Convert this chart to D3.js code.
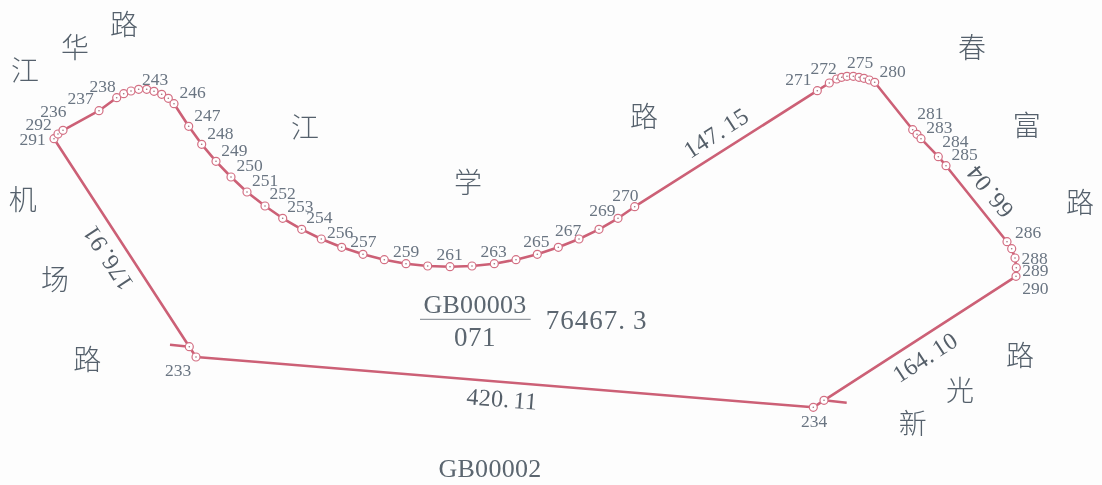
<!DOCTYPE html>
<html>
<head>
<meta charset="utf-8">
<style>
    body { margin: 0; background: #fdfdfd; }
    svg { display: block; }
</style>
<script src="https://d3js.org/d3.v7.min.js"></script>
</head>
<body>
<div id="chart"></div>
<script>
// parcel boundary vertices (map units, y down)
const pointX = [54, 58, 63, 99, 116.7, 123.7, 131, 138.7, 146.7, 154, 161.7, 168.3, 174,
    188.7, 201.7, 216, 231, 247, 265, 282.7, 301.7, 321.3, 341.7, 363, 384.3, 406, 427.7,
    450, 472, 494.3, 516, 537.3, 558.3, 579, 599, 618, 634.7,
    817.3, 829.3, 836.7, 841.7, 847, 853.3, 859, 864, 869.3, 874.7,
    912.7, 917, 921, 938.3, 946, 1007, 1011.7, 1015, 1016.3, 1016,
    824, 813.3, 196, 189.3];
const pointY = [138.7, 134, 130.3, 110.7, 97.7, 93.7, 91, 89.3, 89.3, 91.3, 94.3, 98.3, 103.7,
    126.3, 144.3, 161.3, 177, 192, 206, 218.3, 229.3, 239, 247.3, 254.3, 259.7, 263.7, 266,
    266.7, 266, 263.7, 259.7, 254.3, 247.3, 239, 229.3, 218.3, 206.7,
    90.7, 83, 79, 77.3, 76.3, 76.3, 77.3, 78.3, 80, 82.3,
    129.7, 134.3, 138.7, 156.7, 165.7, 241.7, 248.7, 258, 267.7, 276.3,
    400.3, 407.3, 357, 346.7];

// short pieces of the neighbouring parcel's boundary
const stubX = [[170, 189.3], [824, 846.7]];
const stubY = [[344.7, 346.7], [400.3, 402.7]];

const pointLabels = ["291", "292", "236", "237", "238", "243", "246", "247", "248", "249", "250",
    "251", "252", "253", "254", "256", "257", "259", "261", "263", "265", "267", "269", "270",
    "271", "272", "275", "280", "281", "283", "284", "285", "286", "288", "289", "290", "233", "234"];
const pointLabelX = [32.7, 38.7, 53.3, 80.7, 102.7, 155, 192.7, 207.3, 220.3, 234.3, 249.7,
    265, 282.7, 300.3, 319.3, 340, 363.3, 406, 449.7, 493.7, 536.3, 568, 602.3, 625.3,
    798.3, 823.7, 860, 892.7, 930.3, 939.3, 955.3, 964.7, 1028, 1034.7, 1035.3, 1035.3, 178, 814];
const pointLabelY = [138.7, 124, 110.7, 97.7, 86, 78.7, 92, 115, 132.7, 149.7, 165,
    180, 193.3, 206, 217.3, 232, 241.3, 251, 254.3, 250.7, 241.3, 230, 209.7, 195,
    79, 68, 62, 70.7, 113.3, 127, 141.3, 154.3, 232.3, 257.7, 269.7, 288, 370, 421.3];

const roadChars = ["路", "华", "江", "江", "机", "场", "路", "学", "路", "春", "富", "路", "路", "光", "新"];
const roadX = [124, 75, 25, 305, 22.7, 55, 87.3, 468, 644, 972, 1026.7, 1080, 1020, 960, 912.7];
const roadY = [23, 46, 69, 126, 197.7, 278, 357.7, 180.7, 115, 46, 124, 200.7, 354.3, 389, 422.3];

const edgeLengths = ["176.91", "420.11", "164.10", "66.04", "147.15"];
const edgeX = [108, 502, 925, 990, 716];
const edgeY = [258, 399, 357.3, 191.7, 133];
const edgeAngle = [237, 4.5, -33, 231, -33];

const width = 1102;
const height = 485;

const x = d3.scaleLinear().domain([0, 1102]).range([0, width]);
const y = d3.scaleLinear().domain([0, 485]).range([0, height]);

const inkColor = "#6a7582";
const lineColor = "#cc6076";

const svg = d3.select("#chart").append("svg")
    .attr("width", width)
    .attr("height", height)
    .attr("viewBox", [0, 0, width, height]);

// the reference is a scan, so everything is a little soft
svg.append("defs").append("filter")
    .attr("id", "soft")
    .append("feGaussianBlur")
    .attr("stdDeviation", 0.45);

const g = svg.append("g").attr("filter", "url(#soft)");

const vertices = d3.range(pointX.length);

const outline = d3.line()
    .x(i => x(pointX[i]))
    .y(i => y(pointY[i]))
    .curve(d3.curveLinearClosed);

g.append("path")
    .attr("d", outline(vertices))
    .attr("fill", "none")
    .attr("stroke", lineColor)
    .attr("stroke-width", 2.6)
    .attr("stroke-linejoin", "round");

g.selectAll("line.stub")
    .data(d3.range(stubX.length))
    .join("line")
    .attr("class", "stub")
    .attr("x1", i => x(stubX[i][0]))
    .attr("y1", i => y(stubY[i][0]))
    .attr("x2", i => x(stubX[i][1]))
    .attr("y2", i => y(stubY[i][1]))
    .attr("stroke", lineColor)
    .attr("stroke-width", 2.6);

g.selectAll("circle.vertex")
    .data(vertices)
    .join("circle")
    .attr("class", "vertex")
    .attr("cx", i => x(pointX[i]))
    .attr("cy", i => y(pointY[i]))
    .attr("r", 4)
    .attr("fill", "#fff")
    .attr("stroke", "#d36f83")
    .attr("stroke-width", 1.2);

g.selectAll("circle.dot")
    .data(vertices)
    .join("circle")
    .attr("class", "dot")
    .attr("cx", i => x(pointX[i]))
    .attr("cy", i => y(pointY[i]))
    .attr("r", 0.8)
    .attr("fill", "#a0707c");

const serif = "'Liberation Serif', serif";

g.selectAll("text.pt")
    .data(pointLabels)
    .join("text")
    .attr("class", "pt")
    .attr("x", (d, i) => x(pointLabelX[i]))
    .attr("y", (d, i) => y(pointLabelY[i]))
    .attr("text-anchor", "middle")
    .attr("dominant-baseline", "central")
    .attr("font-family", serif)
    .attr("font-size", 17.5)
    .attr("fill", inkColor)
    .text(d => d);

g.selectAll("text.road")
    .data(roadChars)
    .join("text")
    .attr("class", "road")
    .attr("x", (d, i) => x(roadX[i]))
    .attr("y", (d, i) => y(roadY[i]))
    .attr("text-anchor", "middle")
    .attr("dominant-baseline", "central")
    .attr("font-family", "'Noto Sans CJK SC'")
    .attr("font-size", 28)
    .attr("font-weight", 300)
    .attr("fill", "#55616c")
    .text(d => d);

// the decimals sit a little apart from the point in the reference
function withGap(sel, gap) {
    sel.each(function(d) {
        const parts = d.split(".");
        const t = d3.select(this);
        t.append("tspan").text(parts[0] + ".");
        t.append("tspan").attr("dx", gap).text(parts[1]);
    });
}

g.selectAll("text.edge")
    .data(edgeLengths)
    .join("text")
    .attr("class", "edge")
    .attr("text-anchor", "middle")
    .attr("dominant-baseline", "central")
    .attr("transform", (d, i) => `translate(${x(edgeX[i])},${y(edgeY[i])}) rotate(${edgeAngle[i]})`)
    .attr("font-family", serif)
    .attr("font-size", 24)
    .attr("letter-spacing", 0.3)
    .attr("fill", "#555f69")
    .call(withGap, 4);

// parcel number, written as a fraction, and its area
function parcelText(str, px, py, size, spacing) {
    return g.append("text")
        .attr("x", x(px))
        .attr("y", y(py))
        .attr("text-anchor", "middle")
        .attr("dominant-baseline", "central")
        .attr("font-family", serif)
        .attr("font-size", size)
        .attr("letter-spacing", spacing)
        .attr("fill", "#5b6670");
}

parcelText("GB00003", 475, 304, 26, 0.3).text("GB00003");
parcelText("071", 475, 336.7, 27, 0.5).text("071");
parcelText("76467.3", 596.7, 320, 27, 1).datum("76467.3").call(withGap, 7);
parcelText("GB00002", 490, 468, 26, 0.3).text("GB00002");

g.append("line")
    .attr("x1", x(420))
    .attr("x2", x(530.7))
    .attr("y1", y(319.3))
    .attr("y2", y(319.3))
    .attr("stroke", "#7b848c")
    .attr("stroke-width", 1);
</script>
</body>
</html>
